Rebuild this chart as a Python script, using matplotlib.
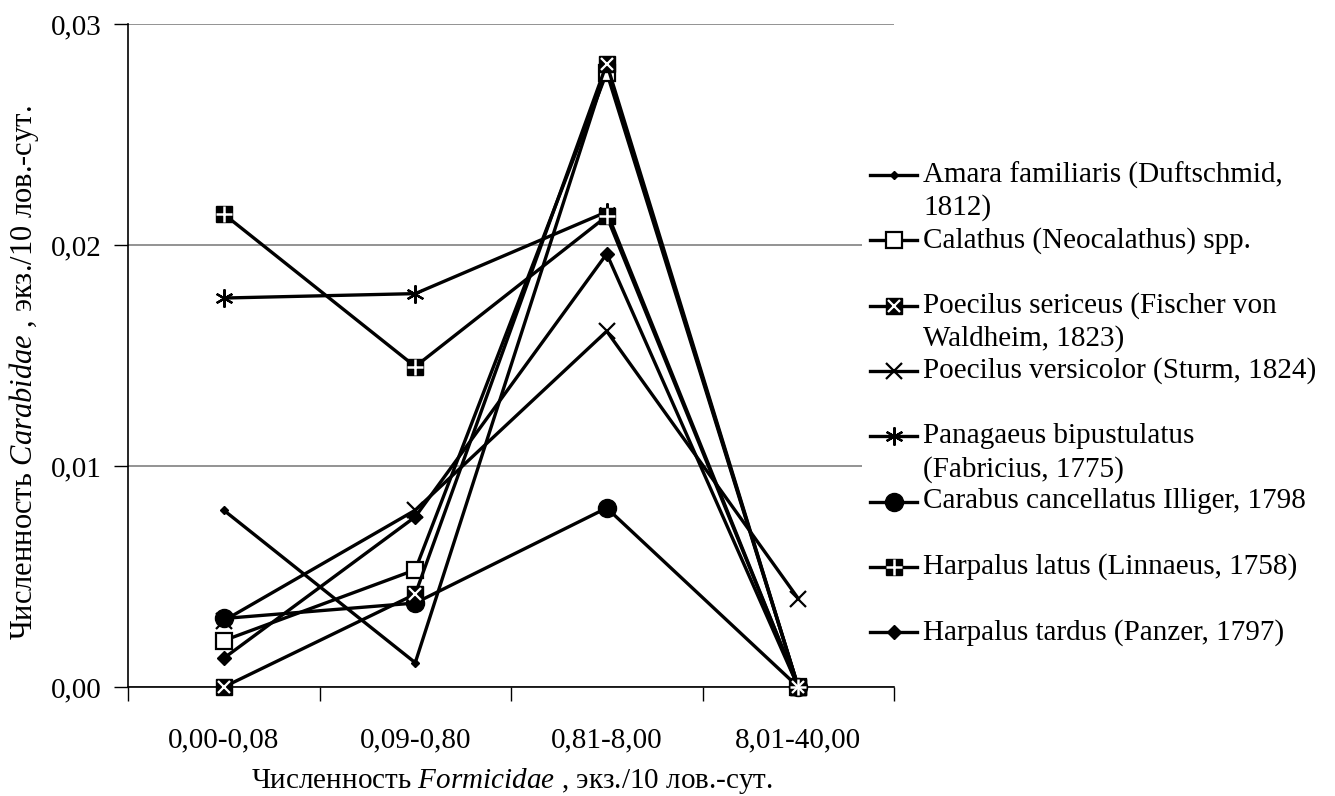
import matplotlib
matplotlib.use("Agg")
import matplotlib.pyplot as plt
from matplotlib.patches import Rectangle
import numpy as np

plt.rcParams['font.family'] = ['Liberation Serif', 'DejaVu Serif']
plt.rcParams['mathtext.fontset'] = 'custom'
plt.rcParams['mathtext.rm'] = 'Liberation Serif'
plt.rcParams['mathtext.it'] = 'Liberation Serif:italic'

# categories (Formicidae abundance classes)
categories = ["0,00-0,08", "0,09-0,80", "0,81-8,00", "8,01-40,00"]
y_ticks = [0.0, 0.01, 0.02, 0.03]
y_tick_labels = ["0,00", "0,01", "0,02", "0,03"]

# Carabidae abundance per species
amara = [0.0080, 0.0011, 0.0280, 0.0]
calathus = [0.0021, 0.0053, 0.0278, 0.0]
sericeus = [0.0, 0.0042, 0.0282, 0.0]
versicolor = [0.0030, 0.0080, 0.0161, 0.0040]
panagaeus = [0.0176, 0.0178, 0.0215, 0.0]
carabus = [0.0031, 0.0038, 0.0081, 0.0]
latus = [0.0214, 0.0145, 0.0213, 0.0]
tardus = [0.0013, 0.0077, 0.0196, 0.0]

labels = [
    "Amara familiaris (Duftschmid,\n1812)",
    "Calathus (Neocalathus) spp.",
    "Poecilus sericeus (Fischer von\nWaldheim, 1823)",
    "Poecilus versicolor (Sturm, 1824)",
    "Panagaeus bipustulatus\n(Fabricius, 1775)",
    "Carabus cancellatus Illiger, 1798",
    "Harpalus latus (Linnaeus, 1758)",
    "Harpalus tardus (Panzer, 1797)",
]
series = [amara, calathus, sericeus, versicolor, panagaeus, carabus, latus, tardus]

FS = 21
LW = 2.4
W, H = 1335, 796

# marker style, optional white overlay marker
styles = [
    dict(marker='D', ms=4, mfc='black', mec='black'),
    dict(marker='s', ms=11, mfc='white', mec='black', mew=1.6),
    dict(marker='s', ms=11, mfc='black', mec='black', overlay=dict(marker='x', ms=9, mew=1.6)),
    dict(marker='x', ms=11, mfc='black', mec='black', mew=1.6),
    dict(marker=(6, 2, 0), ms=13, mfc='black', mec='black', mew=1.6),
    dict(marker='o', ms=13, mfc='black', mec='black'),
    dict(marker='s', ms=11, mfc='black', mec='black', overlay=dict(marker='+', ms=11, mew=1.8)),
    dict(marker='D', ms=7, mfc='black', mec='black'),
]

fig = plt.figure(figsize=(W / 100, H / 100), dpi=100)
ax = fig.add_axes([128 / W, 1 - 687 / H, (894 - 128) / W, (687 - 24) / H])

x = np.arange(len(categories))
for vals, st in zip(series, styles):
    st = dict(st)
    ov = st.pop('overlay', None)
    ax.plot(x, vals, color='black', lw=LW, clip_on=False, zorder=3, **st)
    if ov:
        ax.plot(x, vals, ls='none', color='white', clip_on=False, zorder=4, **ov)

ax.set_xlim(-0.5, 3.5)
ax.set_ylim(0, 0.03)
ax.set_xticks(np.arange(-0.5, 4, 1))
ax.set_xticklabels([])
ax.set_xticks(x, minor=True)
ax.set_xticklabels(categories, minor=True, fontsize=FS)
ax.tick_params(axis='x', which='major', length=10, width=1, direction='out')
ax.tick_params(axis='x', which='minor', length=0, pad=29)
ax.set_yticks(y_ticks)
ax.set_yticklabels(y_tick_labels, fontsize=FS)
ax.tick_params(axis='y', length=10, width=1, direction='out', pad=9)
ax.grid(axis='y', color='#808080', lw=1.2)
ax.set_axisbelow(True)
for s in ['top', 'right']:
    ax.spines[s].set_visible(False)
for s in ['left', 'bottom']:
    ax.spines[s].set_linewidth(1.2)
    ax.spines[s].set_zorder(2.5)

fig.text(512 / W, 1 - 781 / H, r"Численность $\mathit{Formicidae}$ , экз./10 лов.-сут.",
         ha='center', va='center', fontsize=FS)
fig.text(24 / W, 1 - 373 / H, r"Численность $\mathit{Carabidae}$ , экз./10 лов.-сут.",
         ha='center', va='center', rotation=90, fontsize=FS + 1)

# legend drawn in pixel coordinates on an overlay axes
lax = fig.add_axes([0, 0, 1, 1], zorder=5)
lax.set_xlim(0, W)
lax.set_ylim(H, 0)
lax.axis('off')
lax.add_patch(Rectangle((862, 150), W - 862, 520, facecolor='white', edgecolor='none'))
for i, (lab, st) in enumerate(zip(labels, styles)):
    st = dict(st)
    ov = st.pop('overlay', None)
    yy = 175 + 65.3 * i
    lax.plot([870, 917], [yy, yy], color='black', lw=LW, marker='none')
    lax.plot([893.5], [yy], ls='none', **st)
    if ov:
        lax.plot([893.5], [yy], ls='none', color='white', **ov)
    for j, line in enumerate(lab.split("\n")):
        lax.text(923, yy + 33 * j, line, ha='left', va='center', fontsize=FS)

fig.savefig("out.png", dpi=100)
